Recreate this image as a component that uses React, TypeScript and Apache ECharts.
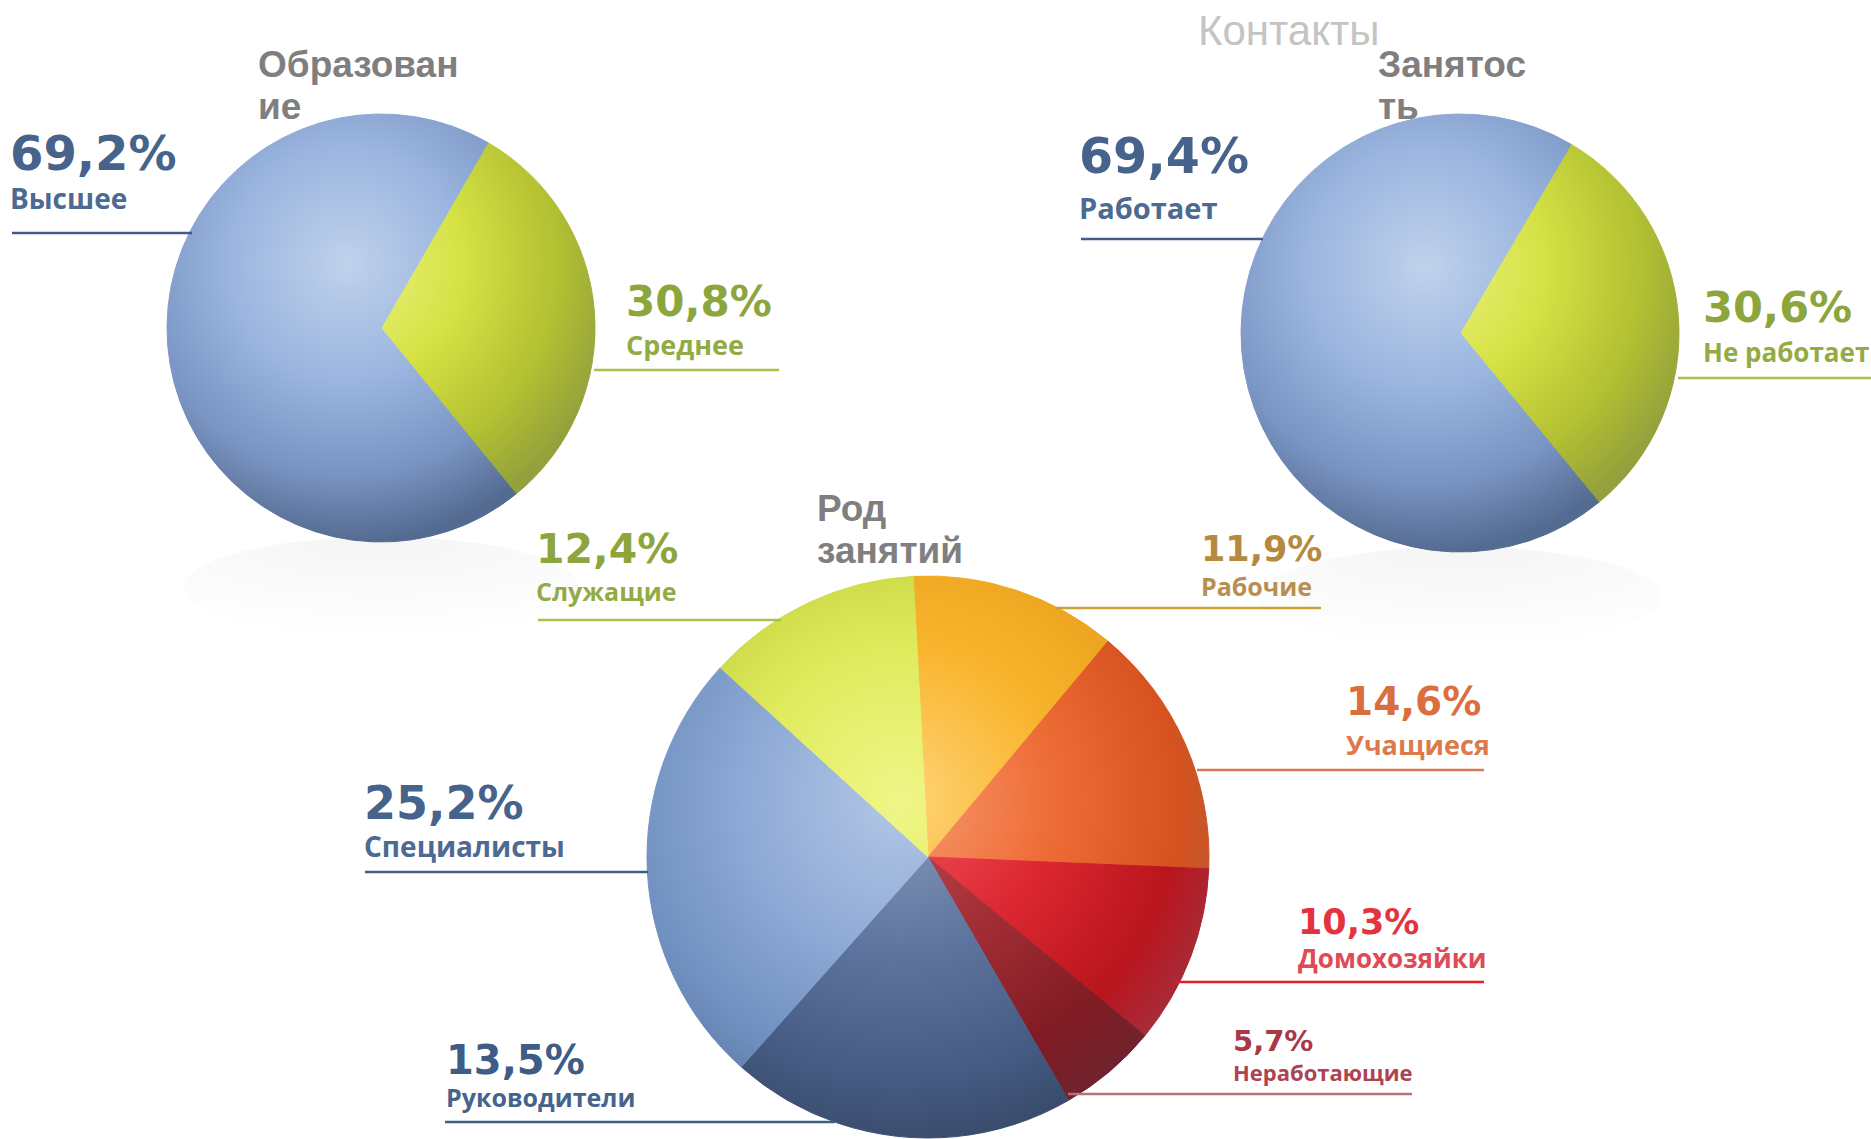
import React, { useEffect, useRef } from "react";
import * as echarts from "echarts";

// ---------- data ----------
const eduCategories = ["Среднее", "Высшее"];
const eduValues = [30.8, 69.2];

const empCategories = ["Не работает", "Работает"];
const empValues = [30.6, 69.4];

const occCategories = ["Рабочие", "Учащиеся", "Домохозяйки", "Неработающие", "Руководители", "Прочие", "Специалисты", "Служащие"];
const occValues = [11.9, 14.6, 10.3, 5.7, 13.5, 6.4, 25.2, 12.4];

const titles = ["Образован|ие", "Занятос|ть", "Род|занятий"];
const pageTitle = "Контакты";

// ---------- styles / layout ----------
const W = 1871;
const H = 1139;

const PIES = [
  { cx: 381, cy: 328, r: 214, start: 60 },
  { cx: 1460, cy: 333, r: 219, start: 59.5 },
  { cx: 928, cy: 857, r: 281, start: 93 },
];

const BLUE = ["#c0d2ec", "#9ab5df", "#7994c2", "#546b91"];
const YELLOW = ["#ebf385", "#d5e244", "#b2c032", "#93a03c"];
const eduColors = [YELLOW, BLUE];
const empColors = [YELLOW, BLUE];
const DARKBLUE = ["#8a9bbd", "#5d749e", "#465b83", "#354766"];
const occColors = [
  ["#ffd478", "#f9b52e", "#eba21c", "#c98a22"],
  ["#f89a70", "#ee6c36", "#d6521f", "#b25b3a"],
  ["#f0525c", "#dc2731", "#b9151d", "#9f3646"],
  ["#bb4850", "#a22c34", "#801b23", "#6b2631"],
  DARKBLUE,
  DARKBLUE,
  ["#b3c7e6", "#8eaad6", "#6f8fbf", "#55709a"],
  ["#f0f688", "#dfeb5c", "#c3d13d", "#9cad2e"],
];

const FONT_NUM = '"DejaVu Sans", Verdana, sans-serif';
const FONT_NAME = '"Open Sans", "DejaVu Sans", sans-serif';
const FONT_TITLE = '"Liberation Sans", Arial, sans-serif';

type Lab = {
  x: number; yNum: number; yName: number; align: "left" | "right";
  num: number; name: number; color: string; nameColor: string;
  lineY: number; lx1: number; lx2: number; lineColor: string;
};

const eduLabels: Lab[] = [
  { x: 626, yNum: 301, yName: 344, align: "left", num: 42, name: 27, color: "#8ca53c", nameColor: "#93ab44", lineY: 370, lx1: 594, lx2: 779, lineColor: "#a9c04c" },
  { x: 10, yNum: 153, yName: 198, align: "left", num: 48, name: 28, color: "#46638c", nameColor: "#4d6a92", lineY: 233, lx1: 12, lx2: 192, lineColor: "#3f5d86" },
];
const empLabels: Lab[] = [
  { x: 1703, yNum: 307, yName: 352, align: "left", num: 43, name: 26, color: "#8ca53c", nameColor: "#93ab44", lineY: 378, lx1: 1678, lx2: 1871, lineColor: "#a9c04c" },
  { x: 1079, yNum: 156, yName: 207, align: "left", num: 49, name: 29, color: "#46638c", nameColor: "#4d6a92", lineY: 239, lx1: 1081, lx2: 1263, lineColor: "#3f5d86" },
];
const occLabels: (Lab | null)[] = [
  { x: 1201, yNum: 549, yName: 586, align: "left", num: 35, name: 25, color: "#b58a3e", nameColor: "#b98f50", lineY: 608, lx1: 1056, lx2: 1321, lineColor: "#c9a136" },
  { x: 1346, yNum: 701, yName: 744, align: "left", num: 39, name: 27, color: "#da6e3e", nameColor: "#dd7a4c", lineY: 770, lx1: 1197, lx2: 1484, lineColor: "#d87a52" },
  { x: 1298, yNum: 922, yName: 958, align: "left", num: 35, name: 26, color: "#e2333f", nameColor: "#e04a55", lineY: 982, lx1: 1175, lx2: 1484, lineColor: "#e01f2b" },
  { x: 1233, yNum: 1041, yName: 1072, align: "left", num: 29, name: 22, color: "#a83945", nameColor: "#ad4452", lineY: 1094, lx1: 1068, lx2: 1412, lineColor: "#b9707a" },
  { x: 446, yNum: 1060, yName: 1097, align: "left", num: 40, name: 25, color: "#3e5c86", nameColor: "#46638c", lineY: 1122, lx1: 445, lx2: 835, lineColor: "#3f5d86" },
  null,
  { x: 364, yNum: 803, yName: 846, align: "left", num: 46, name: 28, color: "#46638c", nameColor: "#4d6a92", lineY: 872, lx1: 365, lx2: 648, lineColor: "#3f5d86" },
  { x: 536, yNum: 549, yName: 591, align: "left", num: 41, name: 25, color: "#8ca53c", nameColor: "#93ab44", lineY: 620, lx1: 538, lx2: 781, lineColor: "#a9c04c" },
];

const titlePos = [
  { x: 258, y1: 64, y2: 106 },
  { x: 1378, y1: 64, y2: 106 },
  { x: 817, y1: 508, y2: 550 },
];

// ---------- helpers ----------
function sphere(p: { cx: number; cy: number; r: number }, c: string[], hx = -0.16, hy = -0.3) {
  return {
    type: "radial",
    x: p.cx + hx * p.r,
    y: p.cy + hy * p.r,
    r: p.r * 1.3,
    global: true,
    colorStops: [
      { offset: 0, color: c[0] },
      { offset: 0.42, color: c[1] },
      { offset: 0.76, color: c[2] },
      { offset: 1, color: c[3] },
    ],
  };
}

const fmt = (v: number) => v.toFixed(1).replace(".", ",") + "%";

function labelGraphics(names: string[], values: number[], labs: (Lab | null)[]) {
  const out: any[] = [];
  names.forEach((n, i) => {
    const l = labs[i];
    if (!l) return;
    out.push({
      type: "line", z: 5,
      shape: { x1: l.lx1, y1: l.lineY, x2: l.lx2, y2: l.lineY },
      style: { stroke: l.lineColor, lineWidth: 2.5 },
    });
    out.push({
      type: "text", z: 10, x: l.x, y: l.yNum,
      style: { text: fmt(values[i]), fill: l.color, font: `bold ${l.num}px ${FONT_NUM}`, textAlign: l.align, align: l.align, textVerticalAlign: "middle", verticalAlign: "middle" },
    });
    out.push({
      type: "text", z: 10, x: l.x, y: l.yName,
      style: { text: n, fill: l.nameColor, font: `bold ${l.name}px ${FONT_NAME}`, textAlign: l.align, align: l.align, textVerticalAlign: "middle", verticalAlign: "middle" },
    });
  });
  return out;
}

function pieSeries(idx: number, names: string[], values: number[], colors: string[][]) {
  const p = PIES[idx];
  const hx = idx === 2 ? -0.1 : -0.16;
  const hy = idx === 2 ? -0.2 : -0.3;
  return {
    type: "pie",
    center: [p.cx, p.cy],
    radius: p.r,
    startAngle: p.start,
    clockwise: true,
    silent: true,
    label: { show: false },
    labelLine: { show: false },
    emphasis: { disabled: true },
    z: 3,
    data: names.map((n, i) => {
      const g = sphere(p, colors[i], hx, hy);
      return {
        name: n,
        value: values[i],
        itemStyle: { color: g, borderColor: g, borderWidth: 1 },
      };
    }),
  };
}

export default function App() {
  const ref = useRef<HTMLDivElement>(null);
  useEffect(() => {
    document.body.style.margin = "0";
    const chart = echarts.init(ref.current!, undefined, { renderer: "svg", width: W, height: H });

    const reflections = [0, 1].map((i) => {
      const p = PIES[i];
      return {
        type: "ellipse", z: 0,
        shape: { cx: p.cx, cy: p.cy + p.r + 45, rx: p.r * 0.92, ry: 50 },
        style: {
          fill: {
            type: "radial", x: 0.5, y: 0.05, r: 0.95,
            colorStops: [
              { offset: 0, color: "rgba(0,0,0,0.04)" },
              { offset: 1, color: "rgba(0,0,0,0)" },
            ],
          },
        },
      };
    });

    const titleG: any[] = [];
    titles.forEach((t, i) => {
      const [a, b] = t.split("|");
      const tp = titlePos[i];
      titleG.push({ type: "text", z: 10, x: tp.x, y: tp.y1, style: { text: a, fill: "#7f7f7f", font: `bold 37px ${FONT_TITLE}`, textVerticalAlign: "middle", verticalAlign: "middle" } });
      titleG.push({ type: "text", z: 10, x: tp.x, y: tp.y2, style: { text: b, fill: "#7f7f7f", font: `bold 37px ${FONT_TITLE}`, textVerticalAlign: "middle", verticalAlign: "middle" } });
    });
    titleG.push({ type: "text", z: 10, x: 1198, y: 30, style: { text: pageTitle, fill: "#c4c4c4", font: `42px ${FONT_TITLE}`, textVerticalAlign: "middle", verticalAlign: "middle" } });

    chart.setOption({
      animation: false,
      backgroundColor: "#ffffff",
      series: [
        pieSeries(0, eduCategories, eduValues, eduColors),
        pieSeries(1, empCategories, empValues, empColors),
        pieSeries(2, occCategories, occValues, occColors),
      ],
      graphic: {
        elements: [
          ...reflections,
          ...titleG,
          ...labelGraphics(eduCategories, eduValues, eduLabels),
          ...labelGraphics(empCategories, empValues, empLabels),
          ...labelGraphics(occCategories, occValues, occLabels),
        ],
      },
    });
    return () => chart.dispose();
  }, []);
  return <div ref={ref} style={{ position: "fixed", left: 0, top: 0, width: W, height: H }} />;
}
